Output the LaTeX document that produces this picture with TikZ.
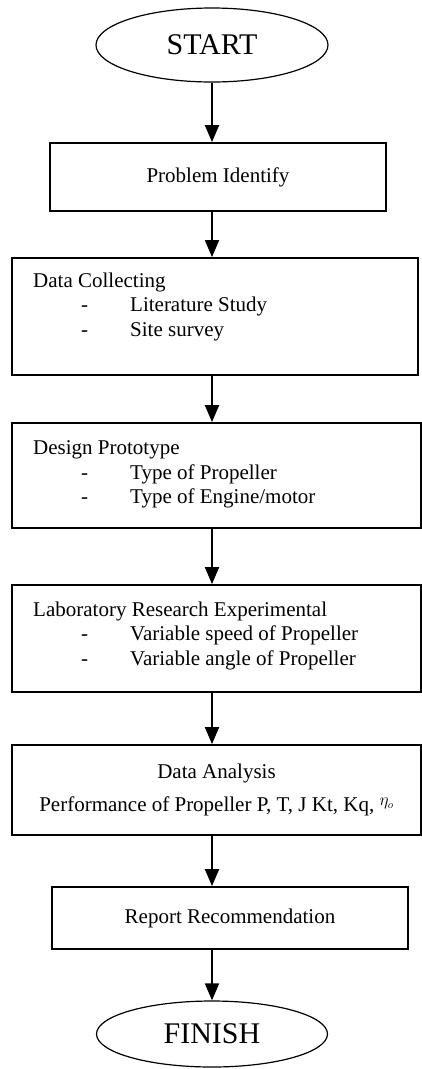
\documentclass[tikz,border=0pt]{standalone}
\usepackage{fontspec}
\setmainfont{Liberation Serif}
\usepackage{tikz}
\usetikzlibrary{shapes.geometric, arrows.meta}
\tikzstyle{flowarrow} = [line width=2pt,-{Triangle[width=14pt,length=17pt]}]
\tikzstyle{stepbox} = [draw, rectangle, line width=1.8pt, inner sep=0pt, align=center, font=\fontsize{21}{33}\selectfont]
\tikzstyle{term} = [draw, ellipse, line width=1.2pt, inner sep=0pt, font=\fontsize{30}{32}\selectfont]
\tikzstyle{boxtext} = [anchor=north west, inner sep=0pt, align=left, font=\fontsize{21}{24.5}\selectfont]
\newcommand{\listdash}{\hspace*{48pt}-\hspace*{42pt}}

\begin{document}
\begin{tikzpicture}[x=1pt, y=-1pt]
            \useasboundingbox (0,0) rectangle (422,1069);
            \coordinate (spine) at (212,0);
            \node[term, minimum width=232pt, minimum height=74pt] (start) at (212,45) {START};
            \node[stepbox, minimum width=336pt, minimum height=68pt] (ident) at (218,177) {Problem Identify};
            \node[stepbox, minimum width=406pt, minimum height=117pt] (collect) at (215,316.5) {};
            \node[stepbox, minimum width=409pt, minimum height=105pt] (design) at (216.5,475.5) {};
            \node[stepbox, minimum width=409pt, minimum height=107pt] (lab) at (216.5,638.5) {};
            \node[stepbox, minimum width=409pt, minimum height=90pt] (analysis) at (216.5,790) {Data Analysis\\Performance of Propeller P, T, J Kt, Kq, \raisebox{6pt}{\fontsize{16}{16}\selectfont$\eta_o$}};
            \node[stepbox, minimum width=356pt, minimum height=62pt] (report) at (230,918) {Report Recommendation};
            \node[term, minimum width=231pt, minimum height=66pt] (finish) at (212,1034) {FINISH};

            \node[boxtext] (collecttxt) at (33,272.5) {Data Collecting\\\listdash Literature Study\\\listdash Site survey};
            \node[boxtext] (designtxt) at (33,440.5) {Design Prototype\\\listdash Type of Propeller\\\listdash Type of Engine/motor};
            \node[boxtext] (labtxt) at (33,601.5) {Laboratory Research Experimental\\\listdash Variable speed of Propeller\\\listdash Variable angle of Propeller};

            \draw [flowarrow] (start.south) -- (spine |- ident.north);
            \draw [flowarrow] (spine |- ident.south) -- (spine |- collect.north);
            \draw [flowarrow] (spine |- collect.south) -- (spine |- design.north);
            \draw [flowarrow] (spine |- design.south) -- (spine |- lab.north);
            \draw [flowarrow] (spine |- lab.south) -- (spine |- analysis.north);
            \draw [flowarrow] (spine |- analysis.south) -- (spine |- report.north);
            \draw [flowarrow] (spine |- report.south) -- (finish.north);
        \end{tikzpicture}
\end{document}
